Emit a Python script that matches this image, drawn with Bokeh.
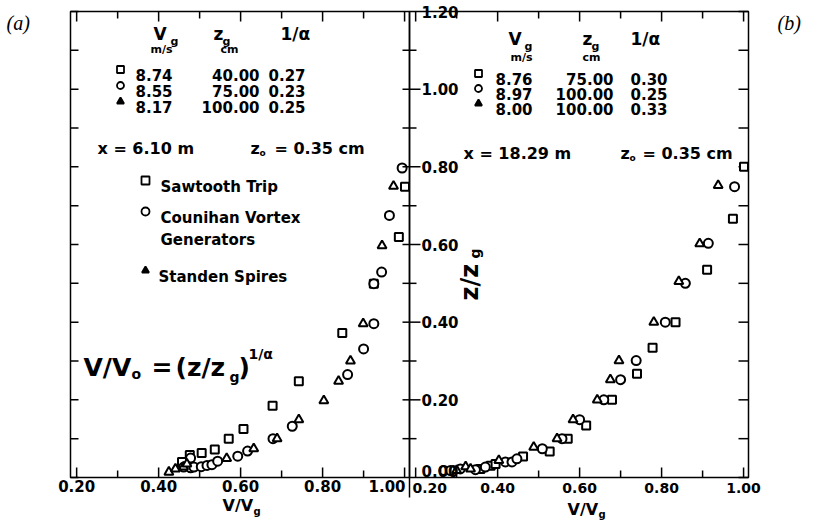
import math
from bokeh.plotting import figure
from bokeh.models import Range1d, Label
from bokeh.core.properties import value
from bokeh.embed import file_html
from bokeh.resources import INLINE

# ---------------- data ----------------
x_tick_values = [0.2, 0.4, 0.6, 0.8, 1.0]
x_tick_labels = ["0.20", "0.40", "0.60", "0.80", "1.00"]
x_minor_values = [0.3, 0.5, 0.7, 0.9]
y_tick_values = [0.0, 0.2, 0.4, 0.6, 0.8, 1.0, 1.2]
y_tick_labels = ["0.00", "0.20", "0.40", "0.60", "0.80", "1.00", "1.20"]
y_minor_values = [0.1, 0.3, 0.5, 0.7, 0.9, 1.1]

# panel (a): x = 6.10 m
vg_a = [8.74, 8.55, 8.17]
zg_a = [40.00, 75.00, 100.00]
inv_alpha_a = [0.27, 0.23, 0.25]
a_sq_x = [0.457, 0.476, 0.505, 0.537, 0.571, 0.607, 0.678, 0.742, 0.848, 0.925, 0.986, 1.001]
a_sq_y = [0.040, 0.058, 0.063, 0.072, 0.100, 0.125, 0.185, 0.248, 0.372, 0.499, 0.619, 0.749]
a_ci_x = [0.461, 0.478, 0.478, 0.486, 0.504, 0.518, 0.530, 0.544, 0.593, 0.617, 0.679, 0.726,
          0.861, 0.900, 0.925, 0.925, 0.944, 0.963, 0.994]
a_ci_y = [0.027, 0.025, 0.050, 0.027, 0.028, 0.031, 0.033, 0.042, 0.055, 0.068, 0.100, 0.132,
          0.265, 0.331, 0.396, 0.499, 0.529, 0.675, 0.797]
a_tr_x = [0.425, 0.441, 0.461, 0.469, 0.566, 0.632, 0.689, 0.742, 0.803, 0.839, 0.868, 0.899, 0.945, 0.973]
a_tr_y = [0.014, 0.022, 0.027, 0.035, 0.049, 0.074, 0.100, 0.149, 0.198, 0.248, 0.300, 0.396, 0.597, 0.750]

# panel (b): x = 18.29 m
vg_b = [8.76, 8.97, 8.00]
zg_b = [75.00, 100.00, 100.00]
inv_alpha_b = [0.30, 0.25, 0.33]
b_sq_x = [0.358, 0.383, 0.395, 0.462, 0.527, 0.571, 0.616, 0.679, 0.740, 0.778, 0.834, 0.911, 0.974, 1.001]
b_sq_y = [0.022, 0.030, 0.035, 0.054, 0.067, 0.100, 0.134, 0.200, 0.267, 0.334, 0.400, 0.535, 0.666, 0.800]
b_ci_x = [0.269, 0.285, 0.309, 0.346, 0.370, 0.419, 0.435, 0.447, 0.509, 0.557, 0.600, 0.659,
          0.700, 0.738, 0.809, 0.858, 0.914, 0.978]
b_ci_y = [0.018, 0.018, 0.022, 0.020, 0.027, 0.040, 0.040, 0.048, 0.074, 0.100, 0.149, 0.200,
          0.252, 0.301, 0.400, 0.500, 0.603, 0.749]
b_tr_x = [0.300, 0.322, 0.334, 0.403, 0.488, 0.545, 0.584, 0.643, 0.675, 0.696, 0.781, 0.842, 0.893, 0.938]
b_tr_y = [0.018, 0.028, 0.022, 0.044, 0.078, 0.100, 0.149, 0.200, 0.252, 0.301, 0.400, 0.505, 0.602, 0.752]

# ---------------- geometry ----------------
FONT = "DejaVu Sans"
SERIF = "Liberation Serif"
W, H = 813, 521
X0, X1 = 0.185, 1.012          # x extent of each panel
Y0, Y1 = 0.0, 1.2              # y extent of each panel
LA, LB = 70, 409               # left edges of the two panel frames, pixels
TOP_EDGE, BOTTOM_EDGE = 11, 477
KX = (LB - LA) / (X1 - X0)
KY = (BOTTOM_EDGE - TOP_EDGE) / (Y1 - Y0)

p = figure(width=W, height=H,
           x_range=Range1d(X0 - LA / KX, X0 + (W - LA) / KX),
           y_range=Range1d(Y0 - (H - BOTTOM_EDGE) / KY, Y1 + TOP_EDGE / KY),
           x_axis_type=None, y_axis_type=None, toolbar_location=None,
           output_backend="svg", min_border=0)
p.extra_x_ranges = {"b": Range1d(X0 - LB / KX, X0 + (W - LB) / KX), "px": Range1d(0, W)}
p.extra_y_ranges = {"px": Range1d(H, 0)}
p.outline_line_color = None
p.background_fill_color = "white"
p.border_fill_color = "white"


def rk(name):
    return {} if name == "default" else {"x_range_name": name}


def dx(px):
    return px / KX


def dy(px):
    return px / KY


def txt(px, py, s, size, style="bold", align="left", font=FONT, baseline="alphabetic", angle=0.0):
    p.add_layout(Label(x=px, y=py, x_range_name="px", y_range_name="px", text=s,
                       text_font=font, text_font_size=f"{size}px", text_font_style=style,
                       text_align=align, text_baseline=baseline, text_color="black", angle=angle))


def key(px, py, marker, size=7, filled=False):
    p.scatter([px], [py], x_range_name="px", y_range_name="px", marker=marker, size=size,
              line_color="black", line_width=1.8, fill_color="black" if filled else "white")


def frame_and_ticks(name, left_ticks, right_ticks):
    kw = rk(name)
    p.quad(left=[X0], right=[X1], bottom=[Y0], top=[Y1], fill_alpha=0,
           line_color="black", line_width=1.5, **kw)
    for vals, ln in ((x_tick_values, 10), (x_minor_values, 7)):
        p.segment(x0=vals, y0=[Y0] * len(vals), x1=vals, y1=[Y0 + dy(ln)] * len(vals),
                  line_color="black", line_width=1.5, **kw)
        p.segment(x0=vals, y0=[Y1] * len(vals), x1=vals, y1=[Y1 - dy(ln)] * len(vals),
                  line_color="black", line_width=1.5, **kw)
    for vals, lo, hi in left_ticks:
        p.segment(x0=[X0 - dx(lo)] * len(vals), y0=vals, x1=[X0 + dx(hi)] * len(vals), y1=vals,
                  line_color="black", line_width=1.5, **kw)
    for vals, ln in right_ticks:
        p.segment(x0=[X1] * len(vals), y0=vals, x1=[X1 - dx(ln)] * len(vals), y1=vals,
                  line_color="black", line_width=1.5, **kw)


def data_marks(name, sx, sy, cx, cy, tx, ty):
    kw = rk(name)
    p.scatter(sx, sy, marker="square", size=8, line_color="black", line_width=2, fill_color="white", **kw)
    p.scatter(cx, cy, marker="circle", size=9, line_color="black", line_width=2, fill_color="white", **kw)
    p.scatter(tx, ty, marker="triangle", size=9, line_color="black", line_width=2, fill_color="white", **kw)


# ---------------- panel (a) ----------------
frame_and_ticks("default",
                left_ticks=[(y_tick_values, 0, 8), (y_minor_values, 0, 8)],
                right_ticks=[])
data_marks("default", a_sq_x, a_sq_y, a_ci_x, a_ci_y, a_tr_x, a_tr_y)
p.text(x=x_tick_values[:-1], y=[Y0 - dy(2)] * 4, text=x_tick_labels[:-1],
       text_font=value(FONT), text_font_style="bold", text_font_size="15px",
       text_align="center", text_baseline="top", text_color="black")
p.text(x=[X1 - dx(4)], y=[Y0 - dy(2)], text=[x_tick_labels[-1]],
       text_font=value(FONT), text_font_style="bold", text_font_size="15px",
       text_align="right", text_baseline="top", text_color="black")

# ---------------- panel (b) ----------------
frame_and_ticks("b",
                left_ticks=[(y_tick_values[1:-1], 7, 11), (y_minor_values, 7, 7)],
                right_ticks=[(y_tick_values, 10), (y_minor_values, 10)])
data_marks("b", b_sq_x, b_sq_y, b_ci_x, b_ci_y, b_tr_x, b_tr_y)
p.text(x=[X0 + dx(3)], y=[Y0 - dy(5)], text=[x_tick_labels[0]], x_range_name="b",
       text_font=value(FONT), text_font_style="bold", text_font_size="14px",
       text_align="left", text_baseline="top", text_color="black")
p.text(x=x_tick_values[1:], y=[Y0 - dy(5)] * 4, text=x_tick_labels[1:], x_range_name="b",
       text_font=value(FONT), text_font_style="bold", text_font_size="14px",
       text_align="center", text_baseline="top", text_color="black")
p.text(x=[X0 + dx(12)] * 6, y=y_tick_values[1:], text=y_tick_labels[1:], x_range_name="b",
       text_font=value(FONT), text_font_style="bold", text_font_size="15px",
       text_align="left", text_baseline="middle", text_color="black")
p.text(x=[X0 + dx(12)], y=[y_tick_values[0] + dy(7)], text=[y_tick_labels[0]], x_range_name="b",
       text_font=value(FONT), text_font_style="bold", text_font_size="15px",
       text_align="left", text_baseline="middle", text_color="black")
p.segment(x0=[LB], y0=[BOTTOM_EDGE], x1=[LB], y1=[BOTTOM_EDGE + 20], x_range_name="px",
          y_range_name="px", line_color="black", line_width=1.5)

# ---------------- texts of panel (a) ----------------
markers = ["square", "circle", "triangle"]
txt(6, 22, "(a)", 20, style="italic", font=SERIF)
txt(153, 33, "V", 17)
txt(170, 41, "g", 11)
txt(213, 33, "z", 17)
txt(222, 41, "g", 11)
txt(280, 33, "1/α", 17)
txt(150, 49, "m/s", 11)
txt(220, 49, "cm", 11)
for i in range(3):
    by = 74 + 16 * i
    key(120, by - 5, markers[i], size=7, filled=(i == 2))
    txt(135, by, f"{vg_a[i]:.2f}", 15)
    txt(259, by, f"{zg_a[i]:.2f}", 15, align="right")
    txt(268, by, f"{inv_alpha_a[i]:.2f}", 15)
txt(97, 148, "x = 6.10 m", 16)
txt(250, 148, "z", 16)
txt(259, 152, "o", 9)
txt(274, 148, "= 0.35 cm", 16)
key(145, 180, "square", size=8)
txt(160, 186, "Sawtooth Trip", 15)
key(145, 211, "circle", size=8)
txt(160, 217, "Counihan Vortex", 15)
txt(160, 239, "Generators", 15)
key(145, 270, "triangle", size=7, filled=True)
txt(158, 276, "Standen Spires", 15)
txt(83, 367, "V/V", 25)
txt(131, 373, "o", 14)
txt(151, 367, "=", 25)
txt(175, 367, "(z/z", 25)
txt(229, 376, "g", 14)
txt(238, 367, ")", 25)
txt(248, 353, "1/α", 14)
txt(222, 505, "V/V", 16)
txt(253, 511, "g", 10)

# ---------------- texts of panel (b) ----------------
txt(777, 22, "(b)", 20, style="italic", font=SERIF)
txt(508, 38, "V", 17)
txt(524, 46, "g", 11)
txt(582, 38, "z", 17)
txt(591, 46, "g", 11)
txt(630, 38, "1/α", 17)
txt(510, 57, "m/s", 11)
txt(582, 57, "cm", 11)
for i in range(3):
    by = 78 + 15 * i
    key(478, by - 5, markers[i], size=7, filled=(i == 2))
    txt(495, by, f"{vg_b[i]:.2f}", 15)
    txt(613, by, f"{zg_b[i]:.2f}", 15, align="right")
    txt(630, by, f"{inv_alpha_b[i]:.2f}", 15)
txt(463, 153, "x = 18.29 m", 16)
txt(620, 153, "z", 16)
txt(629, 157, "o", 9)
txt(642, 153, "= 0.35 cm", 16)
txt(469, 300, "z/z", 24, baseline="middle", angle=math.pi / 2)
txt(474, 258, "g", 14, baseline="middle", angle=math.pi / 2)
txt(567, 509, "V/V", 16)
txt(598, 514, "g", 10)

open("out.html", "w").write(file_html(p, INLINE))
